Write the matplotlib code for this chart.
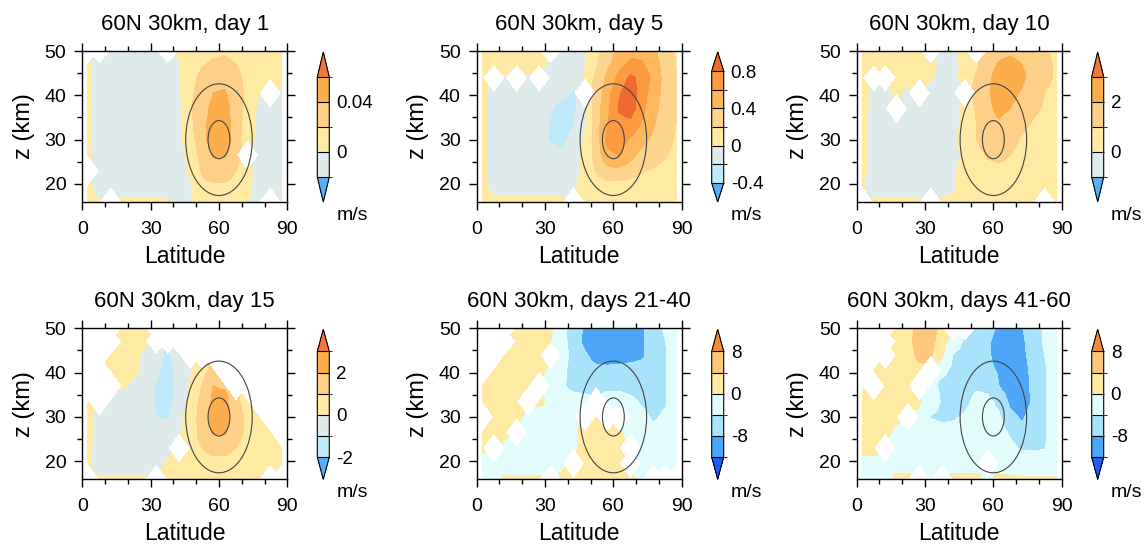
import numpy as np
import matplotlib
matplotlib.use("Agg")
import matplotlib.pyplot as plt
import matplotlib.tri as mtri
from matplotlib.colors import ListedColormap, BoundaryNorm
from matplotlib.patches import Ellipse
from matplotlib.ticker import MultipleLocator

plt.rcParams['font.family'] = ['Liberation Sans', 'DejaVu Sans']

N = np.nan

lats = [2.5, 7.5, 12.5, 17.5, 22.5, 27.5, 32.5, 37.5, 42.5, 47.5,
        52.5, 57.5, 62.5, 67.5, 72.5, 77.5, 82.5, 87.5]
# rows of the fields below go from the top (50 km) down to 16 km
heights_top_down = [50, 47, 44, 40.5, 37, 33.5, 30, 26.5, 23, 19.5, 16]

u_day1 = [
    [N, N, -.006, -.006, -.006, -.006, -.006, N, .002, .006, .012, .016, .018, .014, .010, .006, .005, .004],
    [.003, -.006, -.006, -.006, -.006, -.006, -.006, -.006, -.001, .008, .018, .023, .024, .020, .012, .008, .006, .004],
    [.003, -.006, -.006, -.006, -.006, -.006, -.006, -.006, -.002, .012, .026, .032, .034, .026, .014, .006, .004, .003],
    [.003, -.006, -.006, -.006, -.006, -.006, -.006, -.006, -.003, .016, .030, .040, .042, .030, .015, .002, N, -.002],
    [.003, -.006, -.006, -.006, -.006, -.006, -.006, -.006, -.004, .018, .032, .045, .046, .032, .012, -.004, -.004, -.004],
    [.003, -.006, -.006, -.006, -.006, -.006, -.006, -.006, -.005, .016, .034, .048, .048, .032, .008, -.004, -.004, -.004],
    [.003, -.006, -.006, -.006, -.006, -.006, -.006, -.006, -.005, .012, .032, .050, .050, .030, .006, -.004, -.004, -.004],
    [.003, -.006, -.006, -.006, -.006, -.006, -.006, -.006, -.006, .006, .028, .042, .042, .026, N, -.004, -.004, -.004],
    [N, -.006, -.006, -.006, -.006, -.006, -.006, -.006, -.006, .002, .022, .030, .030, .020, .004, -.004, -.004, -.004],
    [.004, -.006, -.006, -.006, -.006, -.006, -.006, -.006, -.006, -.002, .016, .017, .017, .014, .002, -.004, -.004, -.004],
    [.004, .001, N, .002, .002, .002, .002, .001, -.002, -.001, .010, .012, .012, .008, .001, -.004, N, -.004],
]

u_day5 = [
    [.05, .05, .04, .04, .05, .04, N, -.05, -.08, -.04, .15, .30, .45, .55, .55, .45, .28, .18],
    [.05, .05, .05, .04, .04, .03, -.02, -.06, -.08, -.02, .18, .36, .52, .64, .62, .50, .32, .20],
    [.04, N, -.01, N, -.02, N, -.06, -.10, -.12, .02, .24, .45, .66, .84, .74, .55, .34, .22],
    [.04, -.06, -.08, -.08, -.08, -.08, -.10, -.16, -.22, N, .26, .52, .78, .92, .70, .50, .34, .22],
    [.04, -.06, -.08, -.08, -.10, -.12, -.18, -.28, -.24, -.05, .30, .56, .82, .90, .66, .46, .32, .22],
    [.04, -.06, -.08, -.08, -.10, -.13, -.22, -.32, -.20, -.02, .30, .60, .74, .74, .58, .42, .30, .20],
    [.04, -.06, -.08, -.08, -.10, -.14, -.22, -.25, -.14, .03, .30, .66, .70, .58, .46, .36, .28, .18],
    [.04, -.06, -.06, -.06, -.08, -.10, -.14, -.16, -.10, .05, .28, .56, .60, .46, .34, .28, .22, .15],
    [.04, -.05, -.05, -.05, -.06, -.06, -.08, -.08, -.06, .05, .22, .34, .35, .29, .22, .18, .15, .12],
    [.04, -.04, -.04, -.04, -.04, -.04, -.04, -.04, -.02, .05, .10, .12, .12, .11, .10, .09, .08, .07],
    [.03, .02, .02, .02, .02, .02, .02, .02, N, .04, .06, .08, .08, .06, .04, -.01, -.01, .04],
]

u_day10 = [
    [.3, .3, .3, .3, .3, .3, N, -.2, -.2, .4, N, 1.4, 1.7, 1.8, 1.7, 1.5, 1.1, .8],
    [.3, .3, .3, .4, .4, .3, .2, -.2, -.3, .3, .8, 1.6, 2.1, 2.3, 2.0, 1.6, 1.2, .9],
    [.3, N, N, .2, .1, .2, .1, -.3, -.3, .4, 1.1, 1.8, 2.4, 2.5, 2.2, 1.6, 1.2, .9],
    [.3, -.2, -.2, .1, -.1, N, -.3, -.4, -.3, N, 1.2, 1.9, 2.4, 2.3, 1.9, 1.4, 1.0, .8],
    [.3, -.3, -.3, N, -.3, -.2, -.3, -.4, -.3, .3, 1.1, 1.8, 2.2, 2.0, 1.6, 1.2, .9, .7],
    [.3, -.4, -.4, -.4, -.4, -.4, -.4, -.4, -.3, .3, 1.0, 1.7, 1.9, 1.6, 1.2, .9, .7, .6],
    [.3, -.4, -.4, -.4, -.4, -.4, -.4, -.4, -.2, .4, 1.0, 1.6, 1.6, 1.3, .9, .7, .6, .5],
    [.3, -.4, -.4, -.4, -.4, -.4, -.4, -.4, -.3, .2, .6, 1.1, 1.2, 1.0, .7, .6, .5, .4],
    [.2, -.4, -.4, -.4, -.4, -.4, -.4, -.3, -.1, .3, .5, .7, .8, .7, .5, .5, .4, .4],
    [.1, -.4, -.4, -.4, -.4, -.4, -.4, -.3, -.1, .3, .4, .5, .5, .5, .4, .4, .3, .3],
    [N, .1, .1, .1, .1, .1, N, .1, .2, .3, .3, .3, .3, .3, .3, .3, N, .2],
]

u_day15 = [
    [N, N, N, .3, .4, .3, N, N, N, N, N, N, N, N, N, N, N, N],
    [N, N, N, .3, .4, .3, N, N, N, N, N, N, N, N, N, N, N, N],
    [N, N, .2, .3, .4, -.3, -.6, -1.2, -.5, N, N, N, N, N, N, N, N, N],
    [N, N, .2, .3, .2, -.2, -.8, -1.4, -.6, -.1, .6, 1.3, N, N, N, N, N, N],
    [N, N, N, .1, -.2, -.4, -1.1, -1.5, -.7, .1, 1.0, 2.0, 1.9, N, N, N, N, N],
    [.2, N, -.3, -.3, -.3, -.4, -1.1, -1.3, -.6, .3, 1.3, 2.2, 2.3, 1.2, .6, N, N, N],
    [.2, -.3, -.3, -.3, -.4, -.5, -1.0, -1.1, -.4, .5, 1.4, 2.4, 2.4, 1.4, .8, .5, N, N],
    [.2, -.3, -.3, -.3, -.4, -.5, -.6, -.6, -.1, .6, 1.3, 2.1, 2.1, 1.3, .8, .6, .4, N],
    [.1, -.3, -.3, -.3, -.3, -.3, -.3, -.2, N, .6, 1.0, 1.3, 1.3, 1.0, .7, .5, .4, .3],
    [.1, -.3, -.3, -.3, -.3, -.3, -.2, .1, .3, .4, .6, .7, .7, .6, .5, .4, .3, .2],
    [N, .1, .1, .1, .1, .1, N, .2, .3, .3, .3, .3, .3, .3, .3, .2, N, N],
]

u_days21_40 = [
    [N, N, N, 2, 2, 1.5, .5, -3, -6, -8.5, -11, -11, -11, -10, -8.5, -6, -3.5, -2],
    [N, N, N, 2, 2, 1.5, 0, -2.5, -6, -9, -11, -11.5, -11.5, -10, -8.5, -6, -4.2, -2],
    [N, N, 2, 2, 2, 1, N, -2, -5.5, -7.5, -9.5, -10, -9.5, -9, -8.5, -6.5, -4.5, -2],
    [N, 1, 1.5, 1.5, 1.5, .5, -.5, -3, -5.5, -6.5, -7, -7, -7, -7, -7, -6.5, -4.5, -2],
    [1, 1.5, 1.5, 1.5, 1, N, -.5, -3.5, -5, -5.5, -5, -5, -5, -5.5, -6, -6, -4.5, -2],
    [1.5, 1.5, 1.5, 1, N, .5, -.5, -2, -2.5, -2.5, N, -2, -2, -3, -4.5, -5, -4.5, -2],
    [N, 1.5, 1, .5, -.5, -1, -1, -1, -.5, N, .5, N, N, -2, -3, -4.5, -3.5, -2],
    [1.5, 1, .5, N, -.5, -1, -1, -1, -.5, 1, 1.5, 1.5, .5, -1, -2, -3, -2.5, -1.5],
    [.5, N, -.5, -1, -1, -1, -1, -.5, -.5, 1, 1.5, 1.5, .5, N, -2, -2.5, -2, -1.5],
    [-1, -1, -1, -1, -1, -1, -1, -.5, N, 1, 1.5, 1.5, .5, N, -1.5, -2, -2, -1.5],
    [-.5, -.5, .3, .3, .3, .3, N, .5, 1, 1, 1, 1, 1, .5, -.5, N, N, N],
]

u_days41_60 = [
    [N, N, N, 1.5, 3, 5, 5.5, 3, N, N, -4.5, -6.5, -8.8, -9.5, -8.2, -6, -3.5, -2],
    [N, N, N, 1.5, 3, 5.5, 5.5, 1.5, -2, -4.5, -5.5, -7.5, -9.5, -10, -8.8, -6, -3.5, -2],
    [N, N, N, 1.5, 2.5, 5, 4.5, .5, -4.2, -5, -6.5, -7.5, -9.5, -10, -9, -6.5, -4, -2],
    [N, .5, 1, 2, 2.5, 3, N, -3, -5, -5.5, -6, -7, -8.5, -10, -9.5, -7, -4.5, -2],
    [-.5, N, 1.5, 2, 2, N, -2.5, -5, -5.5, -5.5, -4.5, -5, -8, -10, -10, -7, -4.5, -2],
    [1, 1.5, 1.5, 1.5, 1, .5, -1.5, -4.5, -5.5, -5, -3, -3, -5, -9, -10, -7.5, -4.5, -2],
    [1.5, 1.5, 1, .5, N, -1, -4.2, -4.8, -4.5, -3.5, -2, -2, -3.5, -7, -8.5, -6.5, -4.5, -2],
    [1.5, 1, .5, -.5, -1, -1.5, -2, -2.5, -2.5, -2, -1.5, -1.5, -2.5, -4.5, -7, -5.5, -4.5, -2],
    [.5, .5, N, -1, -1, -1, -1, -1.5, -1.5, -1.5, -1, -1, -1.5, -3, -4.5, -4.5, -4.2, -2],
    [-.5, -.5, -.5, -.5, -.5, -.5, -.5, -.5, -.5, -.5, -.5, N, -.5, -1, -1.5, -2, -2, -1.5],
    [-.5, -.5, -.5, .3, .3, N, -.3, N, .3, .3, .3, -.3, .3, .3, .3, .3, .3, .3],
]

titles = ["60N 30km, day 1", "60N 30km, day 5", "60N 30km, day 10",
          "60N 30km, day 15", "60N 30km, days 21-40", "60N 30km, days 41-60"]

levels_day1 = [-0.02, 0, 0.02, 0.04, 0.06]
levels_day5 = [-0.4, -0.2, 0, 0.2, 0.4, 0.6, 0.8]
levels_day10 = [-1, 0, 1, 2, 3]
levels_day15 = [-2, -1, 0, 1, 2, 3]
levels_late = [-12, -8, -4, 0, 4, 8]

cbar_ticks = [[0, 0.04], [-0.4, 0, 0.4, 0.8], [0, 2], [-2, 0, 2], [-8, 0, 8], [-8, 0, 8]]
cbar_labels = [["0", "0.04"], ["-0.4", "0", "0.4", "0.8"], ["0", "2"],
               ["-2", "0", "2"], ["-8", "0", "8"], ["-8", "0", "8"]]

# forcing region: centre (lat, z) and full widths of the two contours
forcing_center = (60, 30)
forcing_outer = (29.2, 25.2)
forcing_inner = (9.6, 8.6)

warm6 = ['#5aaef7', '#dfeaea', '#feeaa3', '#fdcf88', '#fcad4c', '#f3763a']
warm8 = ['#5aaef7', '#bfeafb', '#dfeaea', '#feeaa3', '#fdd48e', '#fdb75d', '#fb9a41', '#ef6a2f']
warm7 = ['#5aaef7', '#bfeafb', '#dfeaea', '#feeaa3', '#fdcf88', '#fcad4c', '#f3763a']
cool7 = ['#1a5df7', '#4da6f8', '#a8e2fb', '#e2fcfc', '#feeaa3', '#fdc77c', '#f68c3a']

panels = [
    (u_day1, levels_day1, warm6, 0.25),
    (u_day5, levels_day5, warm8, 0.17),
    (u_day10, levels_day10, warm6, 0.25),
    (u_day15, levels_day15, warm7, 0.21),
    (u_days21_40, levels_late, cool7, 0.21),
    (u_days41_60, levels_late, cool7, 0.21),
]

W, H = 1146, 547
ax_lefts = [82.3, 476.7, 856.7]
row_tops = [51, 328.3]
ax_w, ax_h = 205, 150.7


def px_rect(left, top, w, h):
    return [left / W, 1 - (top + h) / H, w / W, h / H]


def make_triangulation(field):
    # each grid cell is split in four round its centre, so a missing
    # point leaves a diamond-shaped gap as in the original plot
    heights = heights_top_down[::-1]
    vals = np.array(field[::-1], dtype=float)
    ny, nx = vals.shape
    X, Y = np.meshgrid(lats, heights)
    xs, ys, vs = list(X.ravel()), list(Y.ravel()), list(vals.ravel())
    idx = np.arange(nx * ny).reshape(ny, nx)
    tris = []
    for j in range(ny - 1):
        for i in range(nx - 1):
            corners = [idx[j, i], idx[j, i + 1], idx[j + 1, i + 1], idx[j + 1, i]]
            cv = np.array([vs[c] for c in corners])
            xs.append((lats[i] + lats[i + 1]) / 2)
            ys.append((heights[j] + heights[j + 1]) / 2)
            vs.append(np.nan if np.isnan(cv).all() else np.nanmean(cv))
            m = len(xs) - 1
            for q in range(4):
                tris.append([corners[q], corners[(q + 1) % 4], m])
    tri = mtri.Triangulation(np.array(xs), np.array(ys), np.array(tris))
    v = np.array(vs)
    missing = np.isnan(v)
    tri.set_mask(missing[tri.triangles].any(axis=1))
    return tri, np.where(missing, 0.0, v)


fig = plt.figure(figsize=(W / 100, H / 100), dpi=100)

for k, (field, levels, colors, efrac) in enumerate(panels):
    row, col = divmod(k, 3)
    left, top = ax_lefts[col], row_tops[row]
    ax = fig.add_axes(px_rect(left, top, ax_w, ax_h))
    cax = fig.add_axes(px_rect(left + 235, top + 1, 12, 150))

    cmap = ListedColormap(colors[1:-1])
    cmap.set_under(colors[0])
    cmap.set_over(colors[-1])
    norm = BoundaryNorm(levels, cmap.N)

    tri, vals = make_triangulation(field)
    cs = ax.tricontourf(tri, vals, levels=levels, cmap=cmap, norm=norm, extend='both')

    for size in (forcing_outer, forcing_inner):
        ax.add_patch(Ellipse(forcing_center, size[0], size[1], fill=False,
                             edgecolor='#444444', linewidth=0.8, zorder=3))

    ax.set_xlim(0, 90)
    ax.set_ylim(16, 50)
    ax.set_xticks([0, 30, 60, 90])
    ax.set_yticks([20, 30, 40, 50])
    ax.xaxis.set_minor_locator(MultipleLocator(10))
    ax.yaxis.set_minor_locator(MultipleLocator(5))
    ax.tick_params(which='both', direction='out', top=True, right=True, width=1)
    ax.tick_params(which='major', length=6, labelsize=14)
    ax.tick_params(which='minor', length=3.5)
    ax.tick_params(axis='x', which='major', pad=8)
    ax.tick_params(axis='y', which='major', pad=5.5)
    for sp in ax.spines.values():
        sp.set_linewidth(1.0)
    ax.set_title(titles[k], fontsize=16, pad=15)
    ax.set_xlabel("Latitude", fontsize=16.5, labelpad=5)
    ax.set_ylabel("z (km)", fontsize=17, labelpad=7)

    cb = fig.colorbar(cs, cax=cax, extendfrac=efrac, drawedges=True,
                      ticks=cbar_ticks[k])
    cb.set_ticklabels(cbar_labels[k])
    cb.ax.tick_params(length=0, pad=5, labelsize=13.5)
    cb.outline.set_linewidth(0.8)
    cb.dividers.set_linewidth(0.8)
    cb.dividers.set_color('black')
    fig.text((left + 254) / W, 1 - (top + 156) / H, "m/s", fontsize=14,
             ha='left', va='top')

fig.savefig("out.png", dpi=100)
